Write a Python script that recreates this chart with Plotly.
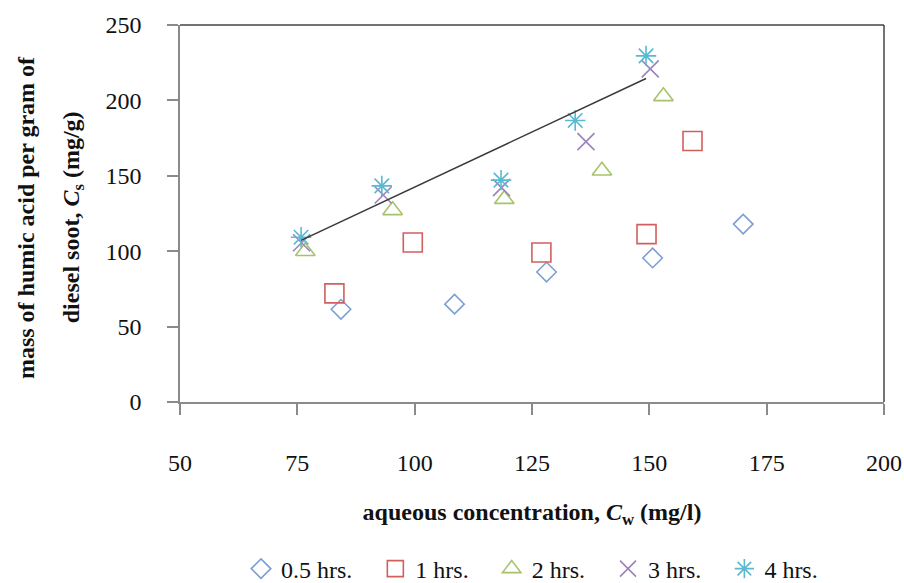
import numpy as np
import plotly.graph_objects as go

# Aqueous concentration C_w (mg/l) and sorbed mass C_s (mg/g) per contact time
series_names = ["0.5 hrs.", "1 hrs.", "2 hrs.", "3 hrs.", "4 hrs."]

cw_05h = [84.3, 108.5, 128.1, 150.7, 170.0]
cs_05h = [61.5, 64.9, 86.2, 95.5, 118.0]

cw_1h = [82.9, 99.6, 127.0, 149.4, 159.2]
cs_1h = [72.0, 105.8, 99.1, 111.3, 173.1]

cw_2h = [76.7, 95.3, 119.1, 139.9, 153.0]
cs_2h = [100.0, 127.1, 134.5, 153.3, 202.7]

cw_3h = [75.9, 93.3, 118.5, 136.5, 150.2]
cs_3h = [105.6, 137.3, 142.2, 172.7, 220.9]

cw_4h = [75.8, 93.0, 118.4, 134.2, 149.3]
cs_4h = [109.3, 143.3, 147.1, 186.7, 229.5]

x_ticks = [50, 75, 100, 125, 150, 175, 200]
y_ticks = [0, 50, 100, 150, 200, 250]

FONT = "Liberation Serif"
NBSP = "\u00a0"

styles = [
    dict(symbol="diamond-open", color="#7d9fd3", size=15),
    dict(symbol="square-open", color="#d0605d", size=19),
    dict(symbol="triangle-up-open", color="#a6c36b", size=17),
    dict(symbol="x-thin-open", color="#9c84bb", size=17),
    dict(symbol="asterisk-open", color="#58b9d3", size=17),
]

data = [(cw_05h, cs_05h), (cw_1h, cs_1h), (cw_2h, cs_2h), (cw_3h, cs_3h), (cw_4h, cs_4h)]

fig = go.Figure()
for i, ((xs, ys), name, st) in enumerate(zip(data, series_names, styles)):
    label = name if i == len(series_names) - 1 else name + NBSP * 3
    fig.add_trace(go.Scatter(
        x=xs, y=ys, mode="markers", name=label,
        marker=dict(symbol=st["symbol"], size=st["size"], color=st["color"],
                    line=dict(color=st["color"], width=1.6)),
        cliponaxis=False,
    ))

# Linear trendline through the 4 hrs. series, spanning its x range
slope, intercept = np.polyfit(cw_4h, cs_4h, 1)
trend_x = [min(cw_4h), max(cw_4h)]
trend_y = [slope * v + intercept for v in trend_x]
fig.add_trace(go.Scatter(
    x=trend_x, y=trend_y, mode="lines", showlegend=False,
    line=dict(color="#3a3a3a", width=1.5), hoverinfo="skip",
))

axis_common = dict(
    showgrid=False, zeroline=False, showline=True, linecolor="#8a8a8a", linewidth=1.5,
    ticks="outside", ticklen=11, tickwidth=1.5, tickcolor="#8a8a8a",
    tickfont=dict(family=FONT, size=24, color="#111111"),
)

fig.update_xaxes(
    range=[50, 200], tickmode="array", tickvals=x_ticks, ticktext=[str(v) for v in x_ticks],
    ticklabelstandoff=27,
    title=dict(text="<b>aqueous concentration, <i>C</i><sub>w</sub> (mg/l)</b>",
               font=dict(family=FONT, size=24, color="#111111"), standoff=29),
    **axis_common,
)
fig.update_yaxes(
    range=[0, 250], tickmode="array", tickvals=y_ticks, ticktext=[str(v) for v in y_ticks],
    ticklabelstandoff=21,
    **axis_common,
)

# Frame on the top and right sides of the plot area
frame = dict(type="line", xref="paper", yref="paper", line=dict(color="#444444", width=1.5))
fig.add_shape(x0=0, x1=1, y0=1, y1=1, **frame)
fig.add_shape(x0=1, x1=1, y0=0, y1=1, **frame)

# Two-line vertical axis title
title_font = dict(family=FONT, size=24, color="#111111")
fig.add_annotation(text="<b>mass of humic acid per gram of</b>", xref="paper", yref="paper",
                   x=-0.219, y=0.49, textangle=-90, showarrow=False,
                   xanchor="center", yanchor="middle", font=title_font)
fig.add_annotation(text="<b>diesel soot, <i>C</i><sub>s</sub> (mg/g)</b>", xref="paper", yref="paper",
                   x=-0.152, y=0.49, textangle=-90, showarrow=False,
                   xanchor="center", yanchor="middle", font=title_font)

fig.update_layout(
    width=904, height=583,
    margin=dict(l=180, r=20, t=25, b=181, pad=0, autoexpand=False),
    paper_bgcolor="white", plot_bgcolor="white",
    font=dict(family=FONT, size=24, color="#111111"),
    legend=dict(orientation="h", x=0.5, xanchor="center", y=-0.443, yanchor="middle",
                font=dict(family=FONT, size=24, color="#111111"),
                bgcolor="rgba(0,0,0,0)"),
)

fig.write_html("out.html")
